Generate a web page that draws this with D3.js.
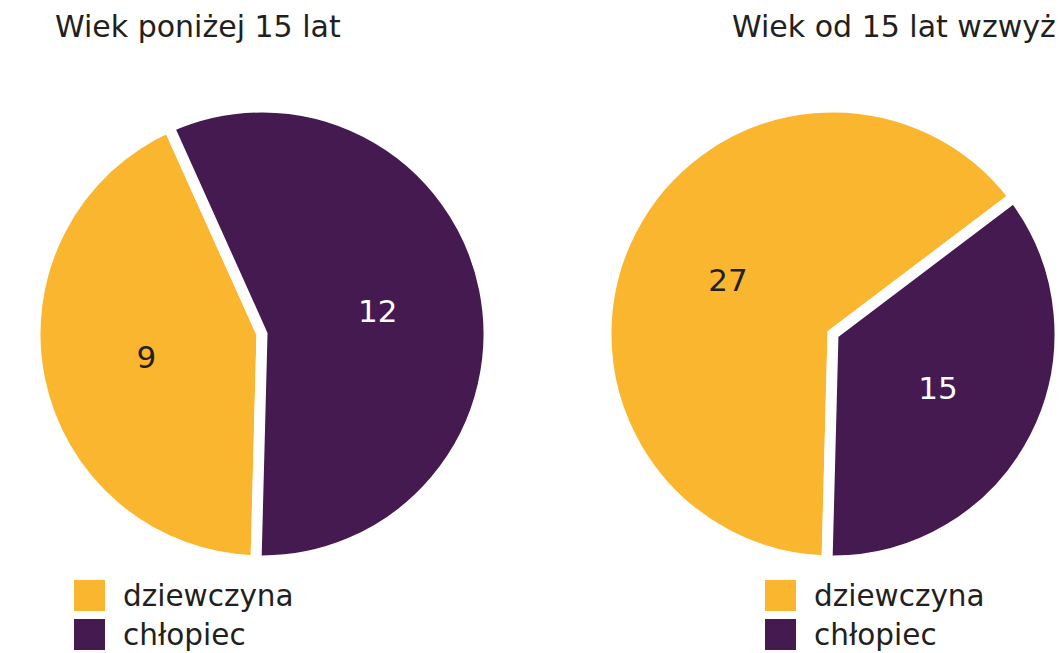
<!DOCTYPE html>
<html>
<head>
<meta charset="utf-8">
<script src="https://cdn.jsdelivr.net/npm/d3@7"></script>
<style>
  body { margin: 0; background: #fff; }
  svg { display: block; font-family: "DejaVu Sans", "Noto Sans", sans-serif; }
</style>
</head>
<body>
<svg width="1063" height="653"></svg>
<script>
// data
let categories = ["dziewczyna", "chłopiec"];
let titles = ["Wiek poniżej 15 lat", "Wiek od 15 lat wzwyż"];
let under15 = [9, 12];
let from15 = [27, 15];

let colors = d3.scaleOrdinal()
  .domain(categories)
  .range(["#fbb630", "#441a50"]);
let labelColors = ["#231f20", "#ffffff"];

let svg = d3.select("svg");
let radius = 227;
let stroke = 11;

// pie turned so the second slice (chłopiec) ends near the bottom
let offset = 1.5 * Math.PI / 180;

function drawPie(values, cx, cy, title, titleX, legendX){
  let g = svg.append("g")
    .attr("transform", `translate(${cx}, ${cy})`);

  let endBoy = Math.PI + offset;

  let pie = d3.pie()
    .sort(null)
    .startAngle(endBoy)
    .endAngle(endBoy + 2 * Math.PI);

  let arcs = pie(values);
  let arc = d3.arc().innerRadius(0).outerRadius(radius);
  let labelArc = d3.arc().innerRadius(118).outerRadius(118);

  g.selectAll(".slice")
    .data(arcs)
    .enter()
    .append("path")
    .attr("class", "slice")
    .attr("d", arc)
    .attr("fill", (d, i) => colors(categories[i]))
    .attr("stroke", "#fff")
    .attr("stroke-width", stroke)
    .attr("stroke-linejoin", "miter");

  g.selectAll(".val")
    .data(arcs)
    .enter()
    .append("text")
    .attr("class", "val")
    .attr("transform", d => `translate(${labelArc.centroid(d)})`)
    .attr("text-anchor", "middle")
    .attr("dy", "0.36em")
    .attr("fill", (d, i) => labelColors[i])
    .style("font-size", "31px")
    .text(d => d.data);

  svg.append("text")
    .attr("x", titleX)
    .attr("y", 37)
    .attr("fill", "#231f20")
    .style("font-size", "30px")
    .text(title);

  let legend = svg.append("g")
    .attr("transform", `translate(${legendX}, 580)`);

  let item = legend.selectAll(".item")
    .data(categories)
    .enter()
    .append("g")
    .attr("class", "item")
    .attr("transform", (d, i) => `translate(0, ${i * 39})`);

  item.append("rect")
    .attr("width", 31)
    .attr("height", 31)
    .attr("fill", d => colors(d));

  item.append("text")
    .attr("x", 49)
    .attr("y", 26)
    .attr("fill", "#231f20")
    .style("font-size", "29.5px")
    .text(d => d);
}

drawPie(under15, 262, 334, titles[0], 55, 74);
drawPie(from15, 833, 334, titles[1], 732, 765);
</script>
</body>
</html>
